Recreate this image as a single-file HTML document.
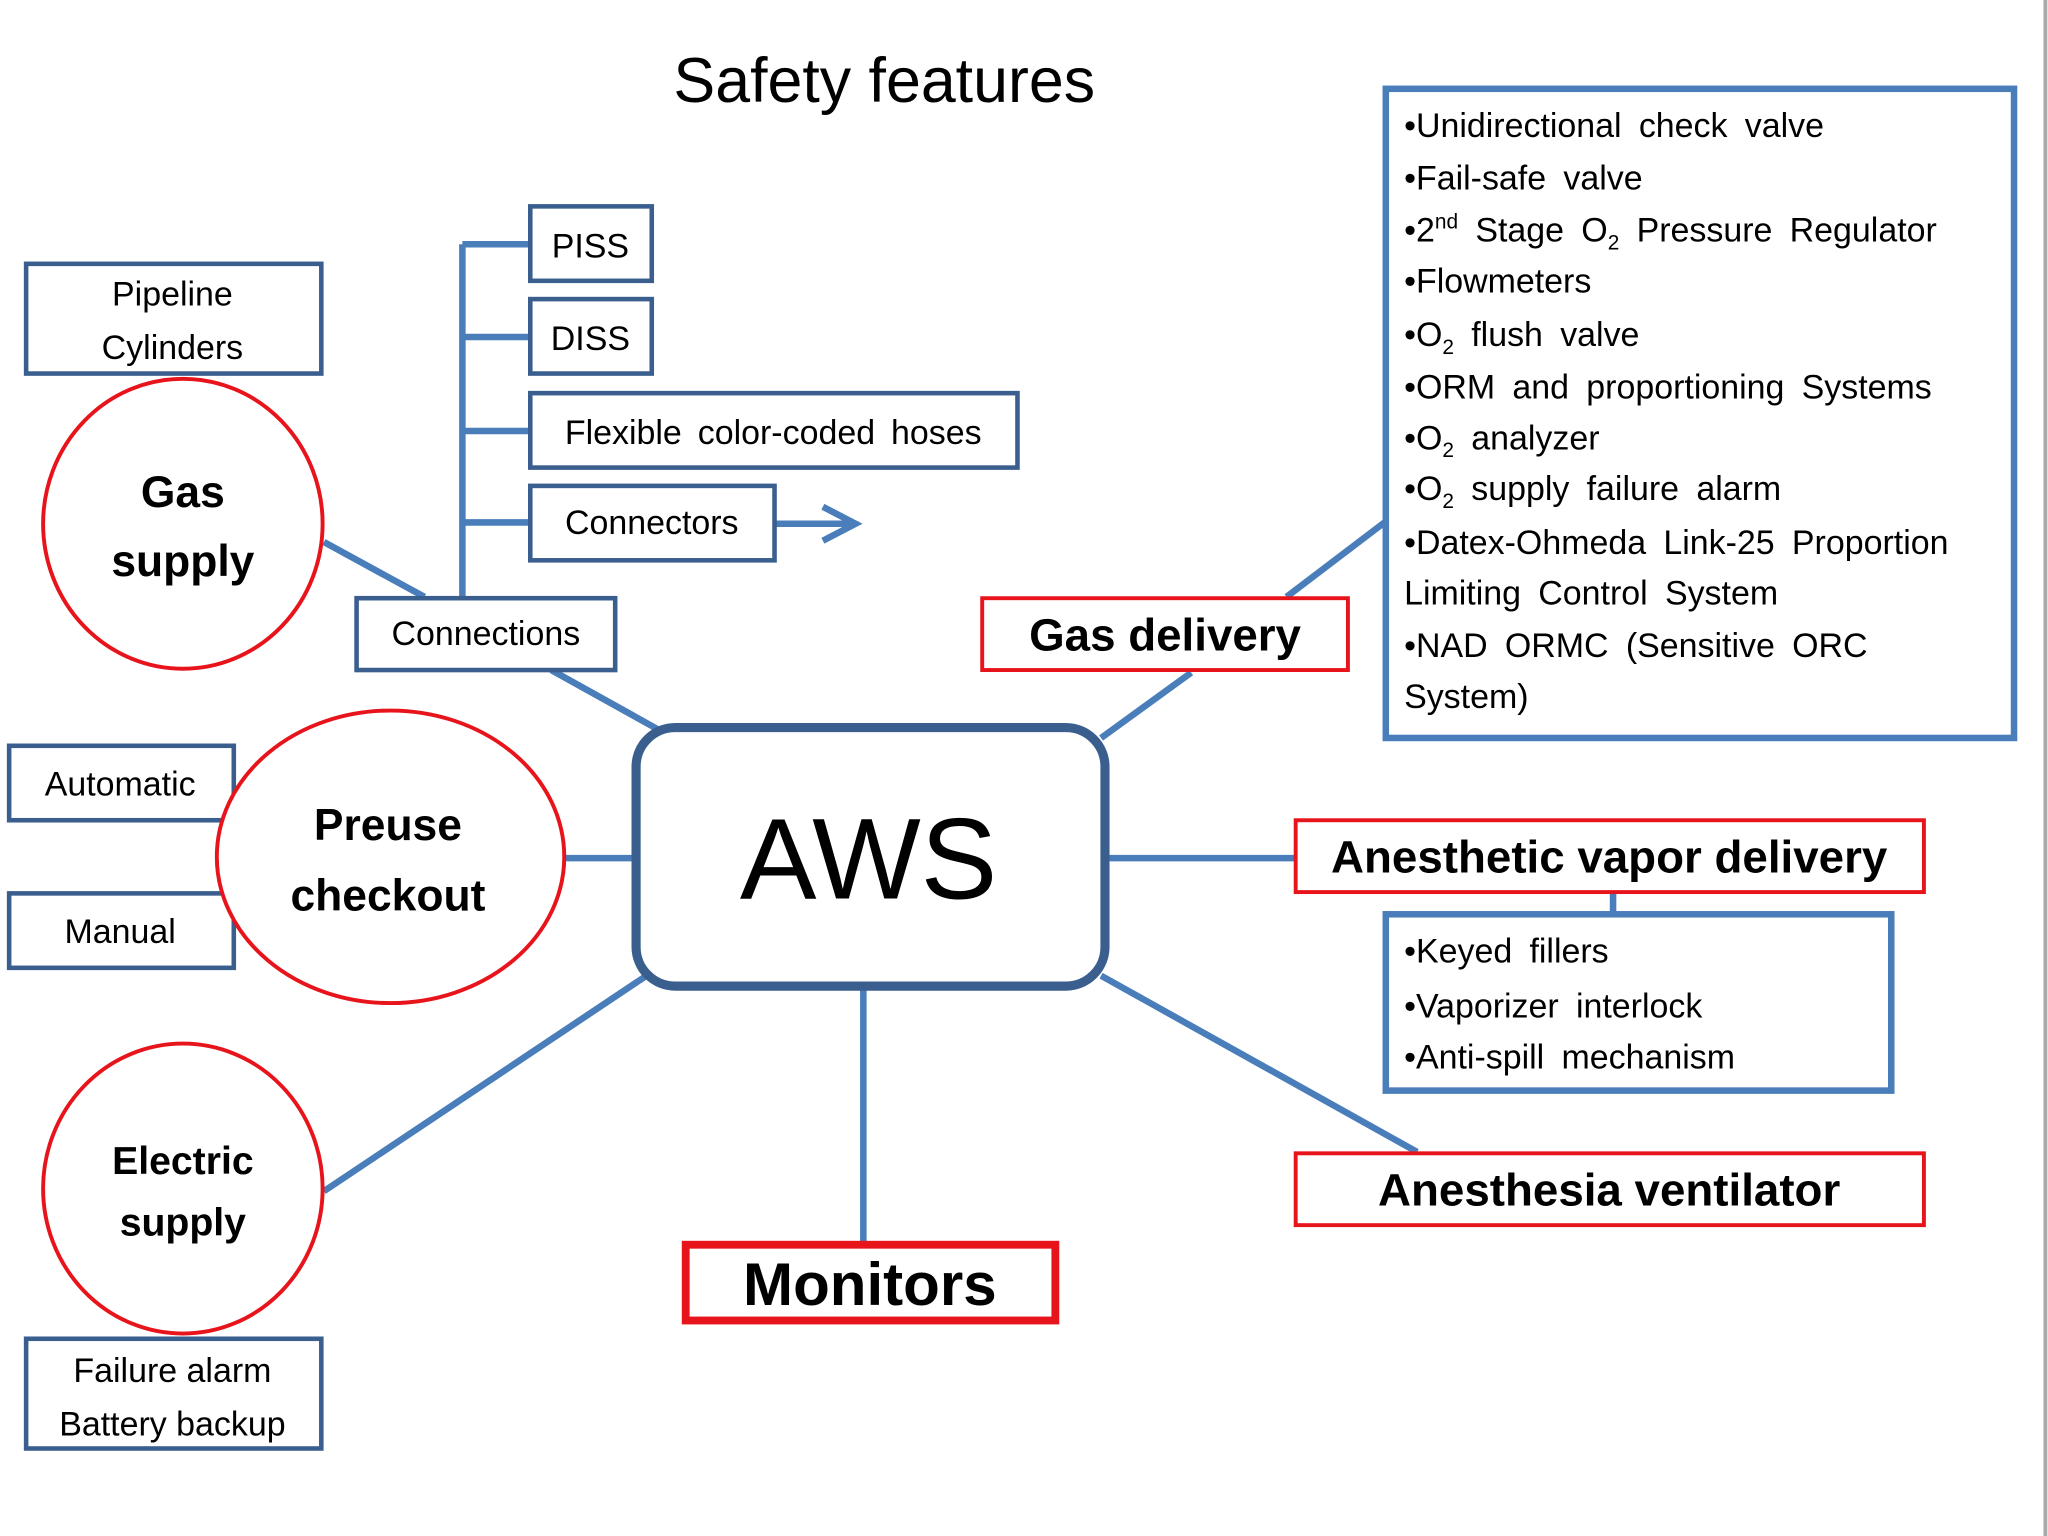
<!DOCTYPE html>
<html><head><meta charset="utf-8"><style>
html,body{margin:0;padding:0;background:#fff;}
svg{display:block;font-family:"Liberation Sans",Arial,sans-serif;}
</style></head><body>
<svg width="2048" height="1536" viewBox="0 0 1568 1176" xmlns="http://www.w3.org/2000/svg">
<rect width="1568" height="1176" fill="#fff"/>
<line x1="1566" y1="0" x2="1566" y2="1176" stroke="#aaa" stroke-width="3"/>
<g stroke="#4a7ebb" stroke-width="5" fill="none">
<line x1="248" y1="415" x2="325" y2="457"/>
<line x1="422" y1="513" x2="503" y2="558"/>
<line x1="433" y1="657" x2="487" y2="657"/>
<line x1="248" y1="912" x2="495" y2="747"/>
<line x1="661" y1="757" x2="661" y2="953"/>
<line x1="843" y1="747" x2="1085" y2="882"/>
<line x1="848" y1="657" x2="992" y2="657"/>
<line x1="843" y1="565" x2="912" y2="515"/>
<line x1="985" y1="457" x2="1060" y2="400"/>
<line x1="1235" y1="684" x2="1235" y2="700"/>
<line x1="354" y1="187" x2="354" y2="457"/>
<line x1="354" y1="187" x2="406" y2="187"/>
<line x1="354" y1="258" x2="406" y2="258"/>
<line x1="354" y1="330" x2="406" y2="330"/>
<line x1="354" y1="400" x2="406" y2="400"/>
<line x1="593" y1="401" x2="652" y2="401"/>
<polyline points="630,388 655,401 630,414"/>
</g>
<g fill="#fff" stroke="#3a5f8f" stroke-width="3.5">
<rect x="20" y="202" width="226" height="84"/>
<rect x="406" y="158" width="93" height="57"/>
<rect x="406" y="229" width="93" height="57"/>
<rect x="406" y="301" width="373" height="57"/>
<rect x="406" y="372" width="187" height="57"/>
<rect x="273" y="458" width="198" height="55"/>
<rect x="7" y="571" width="172" height="57"/>
<rect x="7" y="684" width="172" height="57"/>
<rect x="20" y="1025" width="226" height="84"/>
</g>
<g fill="#fff" stroke="#4a7ebb" stroke-width="5">
<rect x="1061" y="68" width="481" height="497"/>
<rect x="1061" y="700" width="387" height="135"/>
</g>
<rect x="487" y="557" width="359" height="198" rx="30" fill="#fff" stroke="#3a5f8f" stroke-width="7"/>
<g fill="#fff" stroke="#e8141c" stroke-width="3">
<ellipse cx="140" cy="401" rx="107" ry="111"/>
<ellipse cx="299" cy="656" rx="133" ry="112"/>
<ellipse cx="140" cy="910" rx="107" ry="111"/>
<rect x="752" y="458" width="280" height="55"/>
<rect x="992" y="628" width="481" height="55"/>
<rect x="992" y="883" width="481" height="55"/>
</g>
<rect x="525" y="953" width="283" height="58" fill="#fff" stroke="#e8141c" stroke-width="6"/>
<g fill="#000" text-anchor="middle">
<text x="677" y="78" font-size="48">Safety features</text>
<text x="132" y="234" font-size="26">Pipeline</text>
<text x="132" y="275" font-size="26">Cylinders</text>
<text x="452" y="197" font-size="26">PISS</text>
<text x="452" y="268" font-size="26">DISS</text>
<text x="592" y="340" font-size="26" word-spacing="5">Flexible color-coded hoses</text>
<text x="499" y="409" font-size="26">Connectors</text>
<text x="372" y="494" font-size="26">Connections</text>
<text x="92" y="609" font-size="26">Automatic</text>
<text x="92" y="722" font-size="26">Manual</text>
<text x="132" y="1058" font-size="26">Failure alarm</text>
<text x="132" y="1099" font-size="26">Battery backup</text>
<text x="140" y="388" font-size="34" font-weight="bold">Gas</text>
<text x="140" y="441" font-size="34" font-weight="bold">supply</text>
<text x="297" y="643" font-size="34" font-weight="bold">Preuse</text>
<text x="297" y="697" font-size="34" font-weight="bold">checkout</text>
<text x="140" y="899" font-size="30" font-weight="bold">Electric</text>
<text x="140" y="946" font-size="30" font-weight="bold">supply</text>
<text x="665" y="688" font-size="88">AWS</text>
<text x="892" y="498" font-size="35" font-weight="bold">Gas delivery</text>
<text x="1232" y="668" font-size="35" font-weight="bold">Anesthetic vapor delivery</text>
<text x="1232" y="923" font-size="35" font-weight="bold">Anesthesia ventilator</text>
<text x="666" y="999" font-size="46" font-weight="bold">Monitors</text>
</g>
<g fill="#000" font-size="26" word-spacing="6">
<text x="1075" y="105">•Unidirectional check valve</text>
<text x="1075" y="145">•Fail-safe valve</text>
<text x="1075" y="185">•2<tspan font-size="16" dy="-10">nd</tspan><tspan dy="10"> Stage O</tspan><tspan font-size="16" dy="6">2</tspan><tspan dy="-6"> Pressure Regulator</tspan></text>
<text x="1075" y="224">•Flowmeters</text>
<text x="1075" y="265">•O<tspan font-size="16" dy="6">2</tspan><tspan dy="-6"> flush valve</tspan></text>
<text x="1075" y="305">•ORM and proportioning Systems</text>
<text x="1075" y="344">•O<tspan font-size="16" dy="6">2</tspan><tspan dy="-6"> analyzer</tspan></text>
<text x="1075" y="383">•O<tspan font-size="16" dy="6">2</tspan><tspan dy="-6"> supply failure alarm</tspan></text>
<text x="1075" y="424">•Datex-Ohmeda Link-25 Proportion</text>
<text x="1075" y="463">Limiting Control System</text>
<text x="1075" y="503">•NAD ORMC (Sensitive ORC</text>
<text x="1075" y="542">System)</text>
<text x="1075" y="737">•Keyed fillers</text>
<text x="1075" y="779">•Vaporizer interlock</text>
<text x="1075" y="818">•Anti-spill mechanism</text>
</g>
</svg>
</body></html>
